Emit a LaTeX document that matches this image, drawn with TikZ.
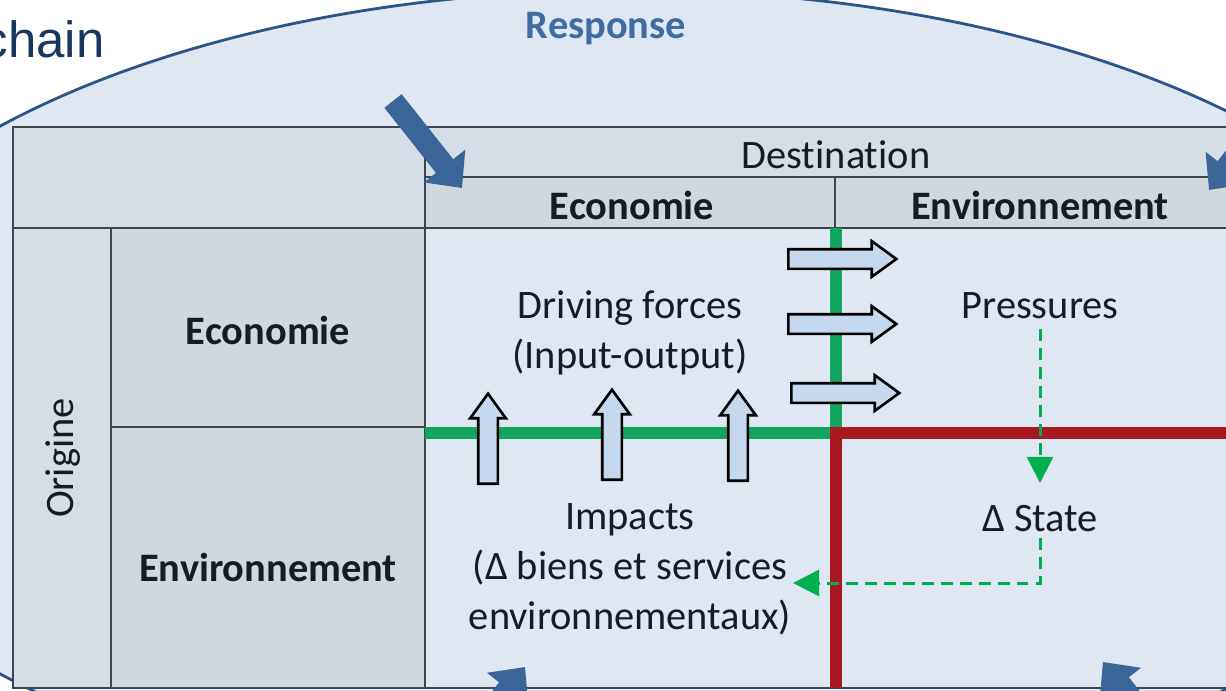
\documentclass[tikz,border=0pt]{standalone}
\usepackage{fontspec}
\setmainfont{Carlito}[Ligatures=NoCommon]
\newfontfamily\titlefont{Liberation Sans}
\usetikzlibrary{arrows.meta,shapes.arrows}

\definecolor{bgblue}{HTML}{DFE7F2}
\definecolor{rimblue}{HTML}{2A5689}
\definecolor{respblue}{HTML}{3D6DA3}
\definecolor{headgray}{HTML}{D5DDE7}
\definecolor{cellgray}{HTML}{CFD8DC}
\definecolor{gridline}{HTML}{3F454D}
\definecolor{ecogreen}{HTML}{12A55E}
\definecolor{envred}{HTML}{A9171F}
\definecolor{flowgreen}{HTML}{00B04F}
\definecolor{blockfill}{HTML}{C6D8EE}
\definecolor{arrowblue}{HTML}{3A6599}
\definecolor{titleblue}{HTML}{17375E}
\definecolor{txt}{HTML}{161B26}

\tikzset{
  lbl/.style={font=\fontsize{23}{28.5}\selectfont, text=txt, align=center, inner sep=0pt},
  hdr/.style={lbl, font=\fontsize{23}{28.5}\selectfont\bfseries},
  cellline/.style={draw=gridline, line width=1.1pt},
  blockarrow/.style={single arrow, draw=black, line width=1.5pt, fill=blockfill,
    minimum height=1.8cm, inner sep=0.17cm, single arrow head extend=0.16cm,
    single arrow tip angle=72},
  bigarrow/.style={arrowblue, line width=0.44cm, -{Triangle[length=0.56cm,width=1.02cm]}},
  flow/.style={flowgreen, line width=1.7pt, dash pattern=on 6.8pt off 4pt,
    -{Triangle[length=0.52cm,width=0.52cm]}}
}

\begin{document}
\begin{tikzpicture}[x=0.02cm, y=-0.02cm]
\useasboundingbox (0,0) rectangle (1226,690);
\clip (0,0) rectangle (1226,690);
\fill[white] (0,0) rectangle (1226,690);

% response arc behind the table
\draw[rimblue, line width=1.6pt, fill=bgblue] (628,400) ellipse [x radius=16.88cm, y radius=8.2cm];
\node[anchor=base east, inner sep=0pt, font=\titlefont\fontsize{29}{34}\selectfont, text=titleblue] (chain) at (105,57) {chain};
\node[lbl, font=\fontsize{23}{28.5}\selectfont\bfseries, text=respblue] (response) at (606,29) {Response};

% table cells
\filldraw[fill=headgray, cellline] (13,127) rectangle (425,228);
\filldraw[fill=headgray, cellline] (425,127) rectangle (1240,177);
\filldraw[fill=cellgray, cellline] (425,177) rectangle (835,228);
\filldraw[fill=cellgray, cellline] (835,177) rectangle (1240,228);
\filldraw[fill=headgray, cellline] (13,228) rectangle (111,688);
\filldraw[fill=cellgray, cellline] (111,228) rectangle (425,427);
\filldraw[fill=cellgray, cellline] (111,427) rectangle (425,688);
\filldraw[fill=bgblue, cellline] (425,228) rectangle (1240,688);

\node[lbl] (dest) at (836,155) {Destination};
\node[hdr] (coleco) at (632,205) {Economie};
\node[hdr] (colenv) at (1040,205) {Environnement};
\node[lbl, rotate=90] (origine) at (63,458) {Origine};
\node[hdr] (roweco) at (268,330) {Economie};
\node[hdr] (rowenv) at (268,567) {Environnement};

% quadrant borders
\draw[ecogreen, line width=0.24cm] (425,433) -- (836,433) -- (836,228);
\draw[envred, line width=0.24cm] (1240,433) -- (836,433) -- (836,688);

\node[lbl] (driving) at (630,333) {Driving forces\\(Input-output)};
\node[lbl] (pressures) at (1040,306) {Pressures};
\node[lbl] (state) at (1040,519) {Δ State};
\node[lbl] (impacts) at (630,569) {Impacts\\(Δ biens et services\\environnementaux)};

% block arrows
\node[blockarrow, rotate=90, anchor=tail] (up1) at (488,485) {};
\node[blockarrow, rotate=90, anchor=tail] (up2) at (612,481) {};
\node[blockarrow, rotate=90, anchor=tail] (up3) at (738,482) {};
\node[blockarrow, minimum height=2.16cm, anchor=tail] (rt1) at (787,259) {};
\node[blockarrow, minimum height=2.16cm, anchor=tail] (rt2) at (787,324) {};
\node[blockarrow, minimum height=2.16cm, anchor=tail] (rt3) at (790,393) {};

% state changes
\coordinate (impback) at (793,583);
\draw[flow, shorten <=0.2cm, shorten >=0.45cm] (pressures.south) -- (state.north);
\draw[flow, shorten <=0.1cm] (state.south) |- (impback);

% policy responses
\coordinate (r1) at (393,101);  \coordinate (t1) at (462,188);
\coordinate (r2) at (1278,102); \coordinate (t2) at (1209,190);
\coordinate (r3) at (456,755);  \coordinate (t3) at (525,667);
\coordinate (r4) at (1172,750); \coordinate (t4) at (1103,662);
\draw[bigarrow] (r1) -- (t1);
\draw[bigarrow] (r2) -- (t2);
\draw[bigarrow] (r3) -- (t3);
\draw[bigarrow] (r4) -- (t4);
\end{tikzpicture}
\end{document}
